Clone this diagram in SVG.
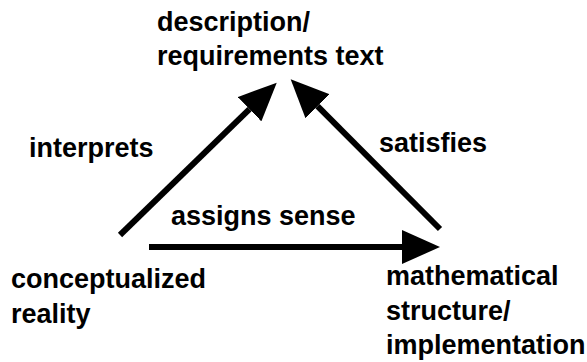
<svg xmlns="http://www.w3.org/2000/svg" width="587" height="362" viewBox="0 0 587 362">
<style>
text{font-family:"Liberation Sans",Arial,Helvetica,sans-serif;font-weight:bold;font-size:27px;fill:#000}
.c{stroke:#000;stroke-width:6;fill:none}
</style>
<defs>
<marker id="ah" viewBox="0 -17 38 34" markerWidth="38" markerHeight="34" refX="0" refY="0" markerUnits="userSpaceOnUse" orient="auto">
<path d="M0,-17 L38,0 L0,17 Z" fill="#000"/>
</marker>
</defs>
<rect width="587" height="362" fill="#fff"/>
<g id="connectors">
<line class="c" x1="120" y1="235" x2="249.5" y2="109.2" marker-end="url(#ah)"/>
<line class="c" x1="440" y1="229" x2="317.5" y2="106.2" marker-end="url(#ah)"/>
<line class="c" x1="149" y1="247" x2="402" y2="247" marker-end="url(#ah)"/>
</g>
<g id="description">
<text x="157" y="31">description/</text>
<text x="157" y="65">requirements text</text>
</g>
<g id="reality">
<text x="11" y="288">conceptualized</text>
<text x="11" y="323">reality</text>
</g>
<g id="mathematical">
<text x="386" y="285">mathematical</text>
<text x="386" y="320">structure/</text>
<text x="386" y="354">implementation</text>
</g>
<g id="labels">
<text x="29" y="157">interprets</text>
<text x="379" y="152">satisfies</text>
<text x="171" y="225">assigns sense</text>
</g>
</svg>
